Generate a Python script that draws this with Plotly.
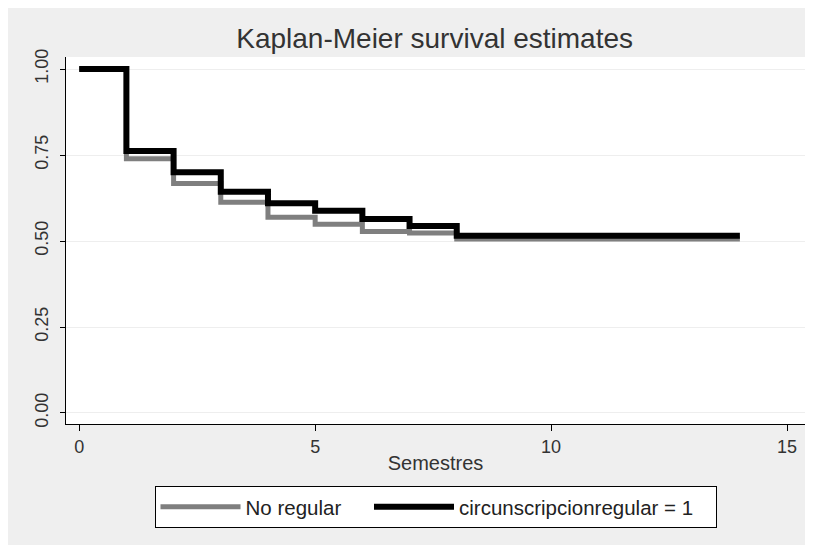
import plotly.graph_objects as go

# Data (Kaplan-Meier step estimates)
times = [0, 1, 2, 3, 4, 5, 6, 7, 8, 14]
surv_no_regular = [1.00, 0.739, 0.667, 0.613, 0.569, 0.549, 0.528, 0.523, 0.506, 0.506]
surv_regular = [1.00, 0.762, 0.700, 0.643, 0.610, 0.588, 0.564, 0.544, 0.515, 0.515]
series_names = ["No regular", "circunscripcionregular = 1"]
x_ticks = [0, 5, 10, 15]
y_ticks = [0.0, 0.25, 0.5, 0.75, 1.0]
y_tick_labels = ["0.00", "0.25", "0.50", "0.75", "1.00"]

FONT = "Liberation Sans, Arial, sans-serif"
NBSP = "\u00a0"

fig = go.Figure()
fig.add_trace(go.Scatter(
    x=times, y=surv_no_regular, mode="lines", line_shape="hv",
    line=dict(color="#7f7f7f", width=5), name=series_names[0] + NBSP * 4))
fig.add_trace(go.Scatter(
    x=times, y=surv_regular, mode="lines", line_shape="hv",
    line=dict(color="#000000", width=6), name=series_names[1] + NBSP * 3))

fig.update_layout(
    width=805, height=537,
    margin=dict(l=58, r=8, t=49, b=121, autoexpand=False),
    paper_bgcolor="#efefef",
    plot_bgcolor="white",
    font=dict(family=FONT, color="#333333", size=18),
    title=dict(text="Kaplan-Meier survival estimates", x=0.530, xanchor="center",
               y=0.944, yanchor="middle", font=dict(size=28, color="#333333")),
    showlegend=True,
    legend=dict(orientation="h", x=0.5, xanchor="center", y=-0.169, yanchor="top",
                bordercolor="#000000", borderwidth=1, bgcolor="white",
                itemwidth=80, font=dict(size=20.5, color="#222222"),
                traceorder="normal", tracegroupgap=0),
)

fig.update_xaxes(
    range=[-0.28, 15.38], tickvals=x_ticks, showgrid=False, zeroline=False,
    showline=True, linecolor="#000000", linewidth=1, automargin=False,
    ticks="outside", ticklen=6, tickcolor="#000000",
    tickfont=dict(size=18, color="#333333"),
    title=dict(text="Semestres", font=dict(size=20, color="#333333"), standoff=0),
)
fig.update_yaxes(
    range=[-0.032, 1.035], tickvals=y_ticks, ticktext=y_tick_labels,
    showgrid=True, gridcolor="#eeeeee", gridwidth=1, zeroline=False,
    showline=True, linecolor="#000000", linewidth=1, automargin=False,
    ticks="outside", ticklen=5, tickcolor="#000000", tickangle=-90,
    ticklabelstandoff=5,
    tickfont=dict(size=18, color="#333333"),
)

fig.write_html("out.html")
